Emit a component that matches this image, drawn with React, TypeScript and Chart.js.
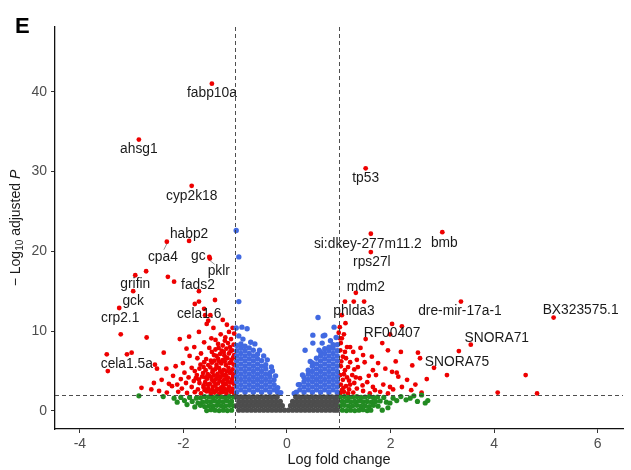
import React, { useEffect, useRef } from "react";
import { Chart, registerables } from "chart.js";

Chart.register(...registerables);

// ---------------- data ----------------
const xTicks = [-4, -2, 0, 2, 4, 6];
const yTicks = [0, 10, 20, 30, 40];
const fcCutoff = 1;
const pCutoff = 2;

const geneNames = [
  "fabp10a", "ahsg1", "cyp2k18", "habp2", "cpa4", "gc", "pklr", "grifin", "gck", "crp2.1",
  "fads2", "cela1.6", "cela1.5a", "tp53", "si:dkey-277m11.2", "bmb", "rps27l", "mdm2",
  "phlda3", "dre-mir-17a-1", "BX323575.1", "RF00407", "SNORA71", "SNORA75",
];
const geneLFC = [
  -1.45, -2.86, -1.84, -1.89, -2.32, -1.5, -1.49, -2.93, -2.97, -3.24,
  -1.7, -1.58, -3.46, 1.52, 1.62, 3.0, 1.62, 1.33,
  1.12, 3.36, 5.15, 2.03, 3.55, 2.84,
];
const geneLogP = [
  41.0, 34.0, 28.2, 21.3, 21.2, 19.3, 19.1, 17.0, 15.0, 12.9,
  15.0, 12.0, 5.0, 30.4, 22.2, 22.4, 19.9, 14.8,
  13.7, 13.7, 11.7, 10.9, 8.3, 5.4,
];

const redLeft: [number, number][] = [
  [-1.02, 2.2], [-1.09, 2.4], [-1.17, 2.15], [-1.25, 2.35], [-1.31, 2.1], [-1.4, 2.3], [-1.47, 2.2], [-1.55, 2.45], [-1.66, 2.2], [-1.78, 2.35], [-1.93, 2.25], [-2.1, 2.4], [-2.32, 2.3], [-2.47, 2.5],
  [-1.05, 2.8], [-1.12, 3.0], [-1.2, 2.75], [-1.27, 2.95], [-1.35, 2.8], [-1.43, 3.05], [-1.52, 2.85], [-1.61, 2.95], [-1.72, 2.7], [-1.84, 3.0], [-2.03, 2.8], [-2.22, 3.1], [-2.62, 2.7], [-2.81, 2.9],
  [-1.03, 3.4], [-1.1, 3.55], [-1.18, 3.35], [-1.24, 3.6], [-1.33, 3.45], [-1.41, 3.65], [-1.49, 3.4], [-1.58, 3.6], [-1.69, 3.5], [-1.8, 3.75], [-1.95, 3.5], [-2.12, 3.3], [-2.28, 3.4], [-2.57, 3.5],
  [-1.06, 4.0], [-1.14, 4.15], [-1.21, 3.95], [-1.29, 4.2], [-1.37, 4.0], [-1.46, 4.25], [-1.54, 4.05], [-1.64, 4.3], [-1.76, 4.1], [-1.9, 4.2], [-2.05, 4.0], [-2.42, 3.9],
  [-1.02, 4.6], [-1.1, 4.75], [-1.19, 4.55], [-1.26, 4.8], [-1.34, 4.65], [-1.44, 4.85], [-1.53, 4.6], [-1.62, 4.75], [-1.74, 4.5], [-1.98, 4.8], [-2.2, 4.4],
  [-1.05, 5.2], [-1.13, 5.4], [-1.22, 5.15], [-1.31, 5.35], [-1.39, 5.2], [-1.48, 5.45], [-1.57, 5.1], [-1.69, 5.3], [-1.84, 5.4], [-2.15, 5.6], [-2.33, 5.3], [-2.51, 5.3], [-2.55, 5.8],
  [-1.03, 5.8], [-1.11, 6.0], [-1.18, 5.75], [-1.27, 5.95], [-1.36, 5.8], [-1.45, 6.05], [-1.67, 5.8], [-2.01, 6.0],
  [-1.07, 6.4], [-1.15, 6.6], [-1.24, 6.35], [-1.33, 6.55], [-1.47, 6.3], [-1.56, 6.5], [-1.73, 6.6], [-1.88, 6.9],
  [-1.02, 7.0], [-1.12, 7.2], [-1.21, 6.95], [-1.29, 7.15], [-1.41, 7.0], [-1.66, 7.2], [-3.09, 7.1], [-3.48, 7.1], [-3.0, 7.3],
  [-1.06, 7.6], [-1.17, 7.8], [-1.26, 7.55], [-1.38, 7.7], [-1.5, 7.9], [-1.94, 7.8], [-2.38, 7.3],
  [-1.03, 8.3], [-1.14, 8.5], [-1.24, 8.2], [-1.33, 8.4], [-1.6, 8.6], [-1.79, 8.0],
  [-1.08, 9.0], [-1.19, 9.2], [-1.46, 9.1], [-1.89, 9.3], [-2.07, 9.0], [-2.71, 9.2],
  [-1.02, 9.7], [-1.28, 9.6], [-1.7, 9.9], [-3.21, 9.6],
  [-1.05, 10.4], [-1.16, 10.8], [-1.42, 10.4], [-1.55, 10.9],
  [-1.24, 11.4], [-1.52, 11.3], [-1.6, 12.8], [-1.78, 13.4], [-1.7, 13.7], [-1.39, 13.9], [-1.48, 12.0],
  [-2.72, 17.5], [-2.3, 16.8], [-2.18, 16.2],
  [-1.06, 2.5], [-1.14, 2.6], [-1.22, 2.5], [-1.29, 2.6], [-1.37, 2.5], [-1.44, 2.65], [-1.51, 2.55], [-1.59, 2.6],
  [-1.07, 3.7], [-1.15, 3.8], [-1.23, 3.2], [-1.3, 3.8], [-1.38, 3.25], [-1.45, 3.9], [-1.53, 3.3], [-1.61, 3.2],
  [-1.04, 4.35], [-1.17, 4.35], [-1.25, 4.45], [-1.33, 4.35], [-1.41, 4.45], [-1.5, 4.4], [-1.58, 4.2], [-1.7, 3.95],
  [-1.08, 5.0], [-1.16, 4.95], [-1.29, 5.0], [-1.36, 5.5], [-1.43, 5.1], [-1.52, 5.75], [-1.61, 5.5], [-1.78, 5.0],
  [-1.08, 6.1], [-1.2, 6.2], [-1.31, 6.2], [-1.4, 6.3], [-1.6, 6.1], [-1.04, 6.7], [-1.18, 6.7], [-1.36, 6.9],
  [-1.09, 7.5], [-1.22, 7.4], [-1.32, 7.9], [-1.45, 7.4], [-1.1, 8.0], [-1.2, 8.8], [-1.38, 8.9], [-1.12, 9.9],
];

const redRight: [number, number][] = [
  [1.0, 9.8], [1.02, 9.1], [1.06, 9.1], [1.16, 8.0], [1.22, 8.0], [1.28, 7.4], [1.08, 6.8], [1.22, 6.1], [1.37, 5.5], [1.12, 5.1],
  [1.26, 4.5], [1.41, 4.1], [1.08, 3.9], [1.55, 3.6], [1.22, 3.3], [1.66, 3.0], [1.06, 2.6], [1.35, 2.8], [1.47, 2.5], [1.8, 2.4],
  [1.47, 7.0], [1.64, 6.8], [1.76, 6.0], [1.66, 5.1], [2.03, 4.9], [2.15, 4.3], [2.32, 3.9], [1.86, 3.3], [1.99, 3.0], [2.22, 3.0],
  [1.84, 8.5], [1.95, 7.6], [2.2, 7.4], [2.53, 7.3], [2.42, 5.7], [2.57, 6.6], [2.7, 4.0], [3.09, 4.5], [2.12, 4.8], [2.22, 10.6], [1.99, 9.6],
  [3.32, 7.5], [4.61, 4.5], [4.07, 2.3], [4.83, 2.2], [1.29, 13.7], [1.49, 13.7],
  [1.03, 2.2], [1.1, 2.4], [1.18, 2.2], [1.04, 3.3], [1.14, 3.1], [1.3, 3.5], [1.03, 4.5], [1.16, 4.2], [1.33, 4.2], [1.04, 5.6],
  [1.18, 5.5], [1.3, 5.2], [1.05, 6.2], [1.14, 6.6], [1.35, 6.4], [1.03, 7.6], [1.12, 7.4], [1.42, 7.9], [1.04, 8.5], [1.1, 9.6],
  [1.5, 6.1], [1.58, 4.4], [1.72, 4.5], [1.9, 5.3], [1.6, 2.2], [1.7, 2.6], [1.95, 2.2], [2.05, 2.7], [2.4, 2.6], [2.48, 3.3],
  [2.6, 2.3], [1.52, 9.0], [2.1, 6.2],
  [1.09, 2.9], [1.2, 2.7], [1.28, 2.3], [1.1, 4.6], [1.2, 3.8], [1.46, 3.2], [1.02, 10.5], [1.13, 11.0], [1.06, 12.0],
];

const bluePts: [number, number][] = [
  [-0.97, 2.35], [-0.97, 3.0], [-0.97, 3.65], [-0.97, 4.3], [-0.97, 4.95], [-0.97, 5.6], [-0.97, 6.25], [-0.97, 6.9], [-0.97, 7.55], [-0.97, 8.2],
  [-0.89, 2.65], [-0.89, 3.3], [-0.89, 3.95], [-0.89, 4.6], [-0.89, 5.25], [-0.89, 5.9], [-0.89, 6.55], [-0.89, 7.2], [-0.89, 7.85], [-0.89, 8.4],
  [-0.81, 2.35], [-0.81, 3.0], [-0.81, 3.65], [-0.81, 4.3], [-0.81, 4.95], [-0.81, 5.6], [-0.81, 6.25], [-0.81, 6.9], [-0.81, 7.55], [-0.81, 8.1],
  [-0.73, 2.65], [-0.73, 3.3], [-0.73, 3.95], [-0.73, 4.6], [-0.73, 5.25], [-0.73, 5.9], [-0.73, 6.55], [-0.73, 7.2], [-0.73, 7.9],
  [-0.65, 2.35], [-0.65, 3.0], [-0.65, 3.65], [-0.65, 4.3], [-0.65, 4.95], [-0.65, 5.6], [-0.65, 6.25], [-0.65, 6.9], [-0.65, 7.6],
  [-0.57, 2.65], [-0.57, 3.3], [-0.57, 3.95], [-0.57, 4.6], [-0.57, 5.25], [-0.57, 5.9], [-0.57, 6.55], [-0.57, 7.1],
  [-0.49, 2.35], [-0.49, 3.0], [-0.49, 3.65], [-0.49, 4.3], [-0.49, 4.95], [-0.49, 5.6], [-0.49, 6.3],
  [-0.41, 2.65], [-0.41, 3.3], [-0.41, 3.95], [-0.41, 4.6], [-0.41, 5.25], [-0.41, 5.8],
  [-0.33, 2.35], [-0.33, 3.0], [-0.33, 3.65], [-0.33, 4.3], [-0.33, 4.8],
  [-0.25, 2.65], [-0.25, 3.3], [-0.25, 3.9], [-0.18, 2.35], [-0.18, 2.9], [-0.12, 2.3],
  [-0.98, 22.6], [-0.93, 19.3], [-0.93, 13.7], [-0.98, 10.4], [-0.87, 10.5], [-0.77, 10.3],
  [-0.85, 9.0], [-0.62, 8.4], [-0.53, 7.6], [-0.38, 6.4], [-0.28, 5.0], [-0.22, 4.4],
  [-0.93, 9.4], [-0.7, 8.6], [-0.45, 6.9], [-0.3, 5.5],
  [0.18, 2.35], [0.25, 2.65], [0.25, 3.3], [0.33, 2.35], [0.33, 3.0], [0.33, 3.65], [0.33, 4.2],
  [0.41, 2.65], [0.41, 3.3], [0.41, 3.95], [0.41, 4.6], [0.41, 5.1],
  [0.49, 2.35], [0.49, 3.0], [0.49, 3.65], [0.49, 4.3], [0.49, 4.95], [0.49, 5.6], [0.49, 6.0],
  [0.57, 2.65], [0.57, 3.3], [0.57, 3.95], [0.57, 4.6], [0.57, 5.25], [0.57, 5.9], [0.57, 6.6],
  [0.65, 2.35], [0.65, 3.0], [0.65, 3.65], [0.65, 4.3], [0.65, 4.95], [0.65, 5.6], [0.65, 6.25], [0.65, 6.9], [0.65, 7.4],
  [0.73, 2.65], [0.73, 3.3], [0.73, 3.95], [0.73, 4.6], [0.73, 5.25], [0.73, 5.9], [0.73, 6.55], [0.73, 7.2], [0.73, 7.8],
  [0.81, 2.35], [0.81, 3.0], [0.81, 3.65], [0.81, 4.3], [0.81, 4.95], [0.81, 5.6], [0.81, 6.25], [0.81, 6.9], [0.81, 7.55], [0.81, 8.0],
  [0.89, 2.65], [0.89, 3.3], [0.89, 3.95], [0.89, 4.6], [0.89, 5.25], [0.89, 5.9], [0.89, 6.55], [0.89, 7.2], [0.89, 7.85], [0.89, 8.3],
  [0.97, 2.35], [0.97, 3.0], [0.97, 3.65], [0.97, 4.3], [0.97, 4.95], [0.97, 5.6], [0.97, 6.25], [0.97, 6.9], [0.97, 7.55], [0.97, 8.3],
  [0.6, 11.7], [0.91, 10.5], [0.5, 9.5], [0.7, 9.4], [0.73, 9.5], [0.68, 8.5], [0.5, 8.5], [0.35, 7.6],
  [0.22, 3.3], [0.3, 4.5], [0.45, 6.2], [0.62, 7.6], [0.84, 8.8], [0.95, 9.2], [0.14, 2.2],
];

const greenPts: [number, number][] = [
  [-2.86, 1.9], [-2.39, 1.8], [-2.18, 1.6], [-2.12, 1.1], [-2.05, 1.7], [-1.98, 1.3], [-1.93, 0.8], [-1.88, 1.7], [-1.83, 1.2], [-1.78, 0.5], [-1.75, 1.6], [-1.72, 1.0],
  [-1.03, 1.75], [-1.11, 1.8], [-1.19, 1.7], [-1.27, 1.75], [-1.35, 1.8], [-1.43, 1.7], [-1.51, 1.75], [-1.59, 1.8], [-1.67, 1.65],
  [-1.07, 1.2], [-1.15, 1.25], [-1.23, 1.15], [-1.31, 1.2], [-1.39, 1.25], [-1.47, 1.15], [-1.55, 1.2], [-1.63, 1.1],
  [-1.03, 0.65], [-1.11, 0.7], [-1.19, 0.6], [-1.27, 0.65], [-1.35, 0.7], [-1.43, 0.6], [-1.51, 0.65], [-1.59, 0.55], [-1.67, 0.7],
  [-1.07, 0.1], [-1.15, 0.05], [-1.23, 0.1], [-1.31, 0.05], [-1.39, 0.1], [-1.47, 0.15], [-1.55, 0.05],
  [1.03, 1.75], [1.11, 1.8], [1.19, 1.7], [1.27, 1.75], [1.35, 1.8], [1.43, 1.7], [1.51, 1.75], [1.59, 1.8], [1.67, 1.7], [1.75, 1.75],
  [1.07, 1.2], [1.15, 1.25], [1.23, 1.15], [1.31, 1.2], [1.39, 1.25], [1.47, 1.15], [1.55, 1.2], [1.63, 1.1], [1.71, 1.2], [1.8, 1.25],
  [1.03, 0.65], [1.11, 0.7], [1.19, 0.6], [1.27, 0.65], [1.35, 0.7], [1.43, 0.6], [1.51, 0.65], [1.59, 0.55], [1.67, 0.7],
  [1.07, 0.1], [1.15, 0.05], [1.23, 0.1], [1.31, 0.05], [1.39, 0.1], [1.47, 0.15], [1.55, 0.05], [1.62, 0.1],
  [1.87, 1.7], [1.92, 1.1], [1.99, 1.0], [2.05, 1.6], [2.12, 1.3], [2.2, 1.8], [2.3, 1.4], [2.38, 1.6], [2.45, 1.9], [2.52, 1.2],
  [2.6, 2.0], [2.67, 1.0], [2.72, 1.3], [1.84, 0.1], [1.95, 0.4], [1.76, 0.6],
];

const greyPts: [number, number][] = [
  [-0.97, 1.75], [-0.89, 1.75], [-0.81, 1.75], [-0.73, 1.75], [-0.65, 1.75], [-0.57, 1.75], [-0.49, 1.75], [-0.41, 1.75], [-0.33, 1.75], [-0.25, 1.75], [-0.19, 1.75],
  [0.17, 1.75], [0.23, 1.75], [0.31, 1.75], [0.39, 1.75], [0.47, 1.75], [0.55, 1.75], [0.63, 1.75], [0.71, 1.75], [0.79, 1.75], [0.87, 1.75], [0.95, 1.75],
  [-0.93, 1.2], [-0.85, 1.2], [-0.77, 1.2], [-0.69, 1.2], [-0.61, 1.2], [-0.53, 1.2], [-0.45, 1.2], [-0.37, 1.2], [-0.29, 1.2], [-0.21, 1.2], [-0.13, 1.2],
  [0.11, 1.2], [0.19, 1.2], [0.27, 1.2], [0.35, 1.2], [0.43, 1.2], [0.51, 1.2], [0.59, 1.2], [0.67, 1.2], [0.75, 1.2], [0.83, 1.2], [0.91, 1.2], [0.97, 1.2],
  [-0.97, 0.65], [-0.89, 0.65], [-0.81, 0.65], [-0.73, 0.65], [-0.65, 0.65], [-0.57, 0.65], [-0.49, 0.65], [-0.41, 0.65], [-0.33, 0.65], [-0.25, 0.65], [-0.17, 0.65], [-0.09, 0.65],
  [0.07, 0.65], [0.15, 0.65], [0.23, 0.65], [0.31, 0.65], [0.39, 0.65], [0.47, 0.65], [0.55, 0.65], [0.63, 0.65], [0.71, 0.65], [0.79, 0.65], [0.87, 0.65], [0.95, 0.65],
  [-0.93, 0.1], [-0.85, 0.1], [-0.77, 0.1], [-0.69, 0.1], [-0.61, 0.1], [-0.53, 0.1], [-0.45, 0.1], [-0.37, 0.1], [-0.29, 0.1], [-0.21, 0.1], [-0.13, 0.1], [-0.05, 0.1],
  [0.03, 0.1], [0.11, 0.1], [0.19, 0.1], [0.27, 0.1], [0.35, 0.1], [0.43, 0.1], [0.51, 0.1], [0.59, 0.1], [0.67, 0.1], [0.75, 0.1], [0.83, 0.1], [0.91, 0.1], [0.97, 0.1],
];

// label placement (pixel offsets from point) and connector flags — styling only
const labelDx = [0, 0, 0, 0, -4, -11, 9, 0, 0, 1, -1, -6, 19, 0, -3, 2, 1, 10, 9, -1, 27, 0, 26, 23];
const labelDy = [10, 10, 10, -7, 15, -1, 13, 9, 10, 10, -6, -1, -7, 10, 10, 11, 10, -6, 10, 10, -7, 9, -7, -6];
const labelLink = [false, false, false, false, true, false, true, false, false, false, false, false, false, false, false, false, false, false, false, false, false, false, false, false];

const FONT = "'Liberation Sans', Arial, Helvetica, sans-serif";

const toXY = (a: [number, number][]) => a.map(([x, y]) => ({ x, y }));

export default function App() {
  const ref = useRef<HTMLCanvasElement | null>(null);

  useEffect(() => {
    if (!ref.current) return;
    const labelled = geneNames.map((_, i) => ({ x: geneLFC[i], y: geneLogP[i] }));

    const overlay = {
      id: "overlay",
      afterDatasetsDraw(chart: any) {
        const { ctx, chartArea, scales } = chart;
        const xs = scales.x;
        const ys = scales.y;
        ctx.save();
        ctx.strokeStyle = "#3a3a3a";
        ctx.lineWidth = 0.9;
        ctx.setLineDash([4, 3]);
        [-fcCutoff, fcCutoff].forEach((v) => {
          const px = Math.round(xs.getPixelForValue(v)) + 0.5;
          ctx.beginPath();
          ctx.moveTo(px, chartArea.top);
          ctx.lineTo(px, chartArea.bottom);
          ctx.stroke();
        });
        const py = Math.round(ys.getPixelForValue(pCutoff)) + 0.5;
        ctx.beginPath();
        ctx.moveTo(chartArea.left, py);
        ctx.lineTo(chartArea.right, py);
        ctx.stroke();
        ctx.setLineDash([]);

        // gene labels
        ctx.font = `13.8px ${FONT}`;
        ctx.fillStyle = "#1a1a1a";
        ctx.textAlign = "center";
        ctx.textBaseline = "middle";
        geneNames.forEach((name, i) => {
          const px0 = xs.getPixelForValue(geneLFC[i]);
          const py0 = ys.getPixelForValue(geneLogP[i]);
          const lx = px0 + labelDx[i];
          const ly = py0 + labelDy[i];
          if (labelLink[i]) {
            ctx.strokeStyle = "#777";
            ctx.lineWidth = 0.8;
            ctx.beginPath();
            ctx.moveTo(lx + (labelDx[i] > 0 ? -4 : 1), ly + (labelDy[i] > 0 ? -7 : 7));
            ctx.lineTo(px0, py0 + (labelDy[i] > 0 ? 2 : -2));
            ctx.stroke();
          }
          ctx.fillText(name, lx, ly);
        });
        ctx.restore();
      },
      afterDraw(chart: any) {
        const { ctx, chartArea } = chart;
        ctx.save();
        // panel letter
        ctx.fillStyle = "#000";
        ctx.font = `bold 22px ${FONT}`;
        ctx.textAlign = "left";
        ctx.textBaseline = "alphabetic";
        ctx.fillText("E", 15, 33);
        // x title
        ctx.font = `14.5px ${FONT}`;
        ctx.fillStyle = "#1a1a1a";
        ctx.textAlign = "center";
        ctx.textBaseline = "middle";
        ctx.fillText("Log fold change", (chartArea.left + chartArea.right) / 2, 460);
        // y title
        const cy = (chartArea.top + chartArea.bottom) / 2;
        ctx.translate(16, cy);
        ctx.rotate(-Math.PI / 2);
        const segs = [
          { t: "\u2212 Log", f: `14px ${FONT}`, dy: 0 },
          { t: "10", f: `10px ${FONT}`, dy: 4 },
          { t: " adjusted ", f: `14px ${FONT}`, dy: 0 },
          { t: "P", f: `italic 14px ${FONT}`, dy: 0 },
        ];
        let total = 0;
        segs.forEach((s) => {
          ctx.font = s.f;
          total += ctx.measureText(s.t).width;
        });
        let cx = -total / 2;
        ctx.textAlign = "left";
        segs.forEach((s) => {
          ctx.font = s.f;
          ctx.fillText(s.t, cx, s.dy);
          cx += ctx.measureText(s.t).width;
        });
        ctx.restore();
      },
    };

    const pointDs = (label: string, data: any[], color: string, r: number) => ({
      label,
      data,
      backgroundColor: color,
      borderColor: color,
      borderWidth: 0,
      pointRadius: r,
      pointHoverRadius: r,
      showLine: false,
    });

    const chart = new Chart(ref.current, {
      type: "scatter",
      data: {
        datasets: [
          pointDs("NS", toXY(greyPts), "#4D4D4D", 2.7),
          pointDs("Log2 FC", toXY(greenPts), "#228B22", 2.6),
          pointDs("p-value", toXY(bluePts), "#4169E1", 2.7),
          pointDs("p-value and log2 FC", [...toXY(redLeft), ...toXY(redRight)], "#EE0000", 2.4),
          pointDs("labelled", labelled, "#EE0000", 2.4),
        ],
      },
      options: {
        responsive: false,
        animation: false,
        devicePixelRatio: 1,
        layout: { padding: { left: 0, right: 8, top: 27, bottom: 0 } },
        plugins: { legend: { display: false }, tooltip: { enabled: false } },
        scales: {
          x: {
            type: "linear",
            min: -4.48,
            max: 6.49,
            afterBuildTicks: (s: any) => {
              s.ticks = xTicks.map((v) => ({ value: v }));
            },
            afterFit: (s: any) => {
              s.height = 41;
            },
            grid: { display: true, drawOnChartArea: false, drawTicks: true, tickLength: 4, color: "#333", lineWidth: 1 },
            border: { display: true, color: "#111", width: 1.3 },
            ticks: { color: "#4D4D4D", font: { family: FONT, size: 14 }, padding: 3, maxRotation: 0 },
          },
          y: {
            type: "linear",
            min: -2.26,
            max: 48.1,
            afterBuildTicks: (s: any) => {
              s.ticks = yTicks.map((v) => ({ value: v }));
            },
            afterFit: (s: any) => {
              s.width = 55;
            },
            grid: { display: true, drawOnChartArea: false, drawTicks: true, tickLength: 4, color: "#333", lineWidth: 1 },
            border: { display: true, color: "#111", width: 1.3 },
            ticks: { color: "#4D4D4D", font: { family: FONT, size: 14 }, padding: 4 },
          },
        },
      },
      plugins: [overlay],
    } as any);
    return () => chart.destroy();
  }, []);

  return (
    <div style={{ position: "absolute", left: 0, top: 0, width: 631, height: 470, background: "#fff" }}>
      <canvas ref={ref} width={631} height={470} style={{ width: 631, height: 470, display: "block" }} />
    </div>
  );
}
